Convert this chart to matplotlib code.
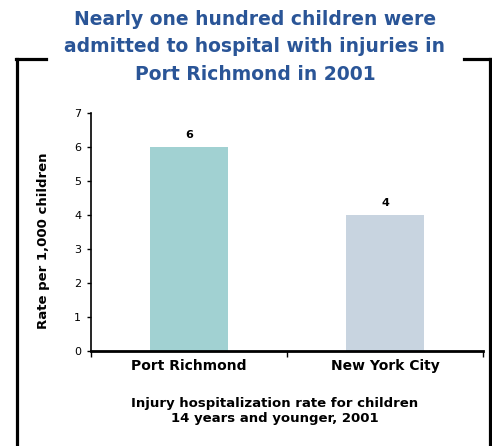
import matplotlib
matplotlib.use("Agg")
import matplotlib.pyplot as plt
from matplotlib.lines import Line2D

categories = ["Port Richmond", "New York City"]
values = [6, 4]
value_labels = ["6", "4"]
colors = ["#A1D1D2", "#C8D4E0"]
yticks = [0, 1, 2, 3, 4, 5, 6, 7]
title = "Nearly one hundred children were\nadmitted to hospital with injuries in\nPort Richmond in 2001"
ylabel = "Rate per 1,000 children"
xlabel = "Injury hospitalization rate for children\n14 years and younger, 2001"

W, H = 492, 446
fig = plt.figure(figsize=(W / 100, H / 100), dpi=100)
plt.rcParams['font.family'] = ['DejaVu Sans']

def fx(x): return x / W
def fy(y): return 1 - y / H
lw = 2.3
fig.add_artist(Line2D([fx(17), fx(17)], [fy(59), 0], color="black", lw=lw, transform=fig.transFigure))
fig.add_artist(Line2D([fx(16), fx(46)], [fy(59), fy(59)], color="black", lw=lw, transform=fig.transFigure))
fig.add_artist(Line2D([fx(490), fx(490)], [fy(59), 0], color="black", lw=lw, transform=fig.transFigure))
fig.add_artist(Line2D([fx(464), fx(491)], [fy(59), fy(59)], color="black", lw=lw, transform=fig.transFigure))

fig.text(fx(255), fy(47), title, ha="center", va="center", fontsize=13.5, fontweight="bold",
         color="#2A5597", linespacing=1.55)

ax = fig.add_axes([fx(91), fy(351), (483 - 91) / W, (351 - 113) / H])
x = list(range(len(categories)))
bars = ax.bar(x, values, width=0.4, color=colors)
ax.set_xlim(-0.5, 1.5)
ax.set_ylim(0, 7)
ax.set_yticks(yticks)
ax.set_yticklabels([str(t) for t in yticks], fontsize=8)
ax.set_xticks(x)
ax.set_xticklabels(categories, fontsize=10, fontweight="bold")
ax.tick_params(axis="x", which="major", length=0, pad=6)
ax.set_xticks([-0.5, 0.5, 1.5], minor=True)
ax.tick_params(axis="x", which="minor", length=4, width=1, direction="out")
ax.tick_params(axis="y", length=3, width=1, pad=4)
for s in ["top", "right"]:
    ax.spines[s].set_visible(False)
ax.spines["left"].set_linewidth(1.2)
ax.spines["bottom"].set_linewidth(2)
ax.set_ylabel(ylabel, fontsize=9.5, fontweight="bold")
ax.yaxis.set_label_coords((50 - 91) / (483 - 91), (351 - 241) / (351 - 113))

for b, lab in zip(bars, value_labels):
    ax.annotate(lab, (b.get_x() + b.get_width() / 2, b.get_height()), xytext=(0, 5),
                textcoords="offset points", ha="center", va="bottom", fontsize=8, fontweight="bold")

fig.text(fx(275), fy(411), xlabel, ha="center", va="center", fontsize=9.5, fontweight="bold",
         linespacing=1.2)

fig.savefig("out.png", dpi=100)
